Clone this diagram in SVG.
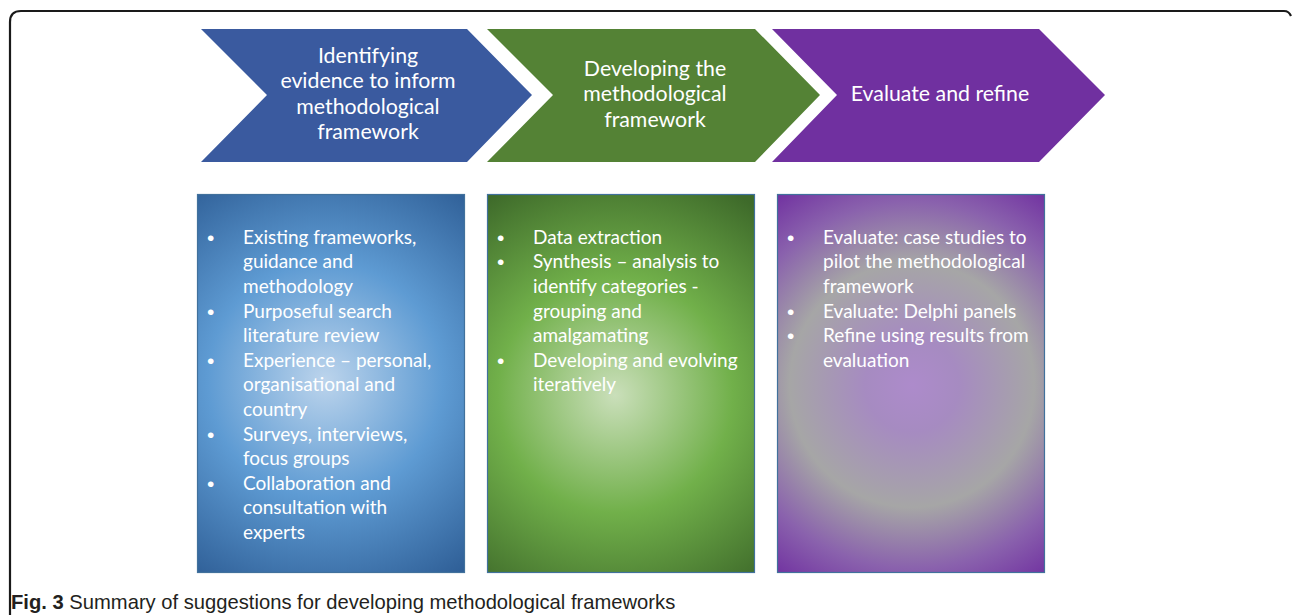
<svg xmlns="http://www.w3.org/2000/svg" width="1292" height="615" viewBox="0 0 1292 615">
  <style>
    .frame { fill: none; stroke: #1a1a1a; stroke-width: 2.2; }
    .chev-text { font-family: Lato, "Open Sans", "Liberation Sans", sans-serif; font-size: 21.3px; fill: #ffffff; text-anchor: middle; }
    .box { stroke: #41719C; stroke-width: 1.2; }
    .item { font-family: Lato, "Open Sans", "Liberation Sans", sans-serif; font-size: 19px; fill: #ffffff; }
    .bullet { font-family: "Liberation Sans", Arial, sans-serif; font-size: 21px; fill: #ffffff; }
    .caption { font-family: "Liberation Sans", Arial, sans-serif; font-size: 20.2px; fill: #231F20; }
  </style>
  <defs>
    <radialGradient id="gBlue" gradientUnits="userSpaceOnUse" cx="325" cy="380" r="235">
      <stop offset="0" stop-color="#BCD4EC"/>
      <stop offset="0.5" stop-color="#5E9BD3"/>
      <stop offset="1" stop-color="#2F5F97"/>
    </radialGradient>
    <radialGradient id="gGreen" gradientUnits="userSpaceOnUse" cx="615" cy="395" r="235">
      <stop offset="0" stop-color="#CADFBA"/>
      <stop offset="0.5" stop-color="#71B04A"/>
      <stop offset="1" stop-color="#3E6A2A"/>
    </radialGradient>
    <radialGradient id="gPurple" gradientUnits="userSpaceOnUse" cx="912" cy="385" r="235">
      <stop offset="0" stop-color="#AD8BCB"/>
      <stop offset="0.2" stop-color="#A68BC1"/>
      <stop offset="0.52" stop-color="#A6A6A6"/>
      <stop offset="0.78" stop-color="#8A62AD"/>
      <stop offset="1" stop-color="#7030A0"/>
    </radialGradient>
  </defs>

  <!-- figure frame -->
  <path class="frame" d="M10,615 V22 Q10,11 21,11 H1284 Q1289,11 1291,16"/>

  <!-- process chevrons -->
  <g id="step-identify">
    <polygon points="201,29 467,29 532,95 467,162 201,162 267,95" fill="#3A5A9F"/>
    <text class="chev-text" x="368" y="63">Identifying</text>
    <text class="chev-text" x="368" y="88">evidence to inform</text>
    <text class="chev-text" x="368" y="114">methodological</text>
    <text class="chev-text" x="368" y="139">framework</text>
  </g>
  <g id="step-develop">
    <polygon points="487,29 755,29 820,95 755,162 487,162 553,95" fill="#548235"/>
    <text class="chev-text" x="655" y="76">Developing the</text>
    <text class="chev-text" x="655" y="101">methodological</text>
    <text class="chev-text" x="655" y="127">framework</text>
  </g>
  <g id="step-evaluate">
    <polygon points="772,29 1039,29 1105,95 1039,162 772,162 837,95" fill="#7030A0"/>
    <text class="chev-text" x="940" y="101">Evaluate and refine</text>
  </g>

  <!-- detail boxes -->
  <g id="box-identify">
    <rect class="box" x="197.5" y="194.5" width="267" height="378" fill="url(#gBlue)"/>
    <g class="bullet">
      <text x="207" y="245">•</text>
      <text x="207" y="319">•</text>
      <text x="207" y="368">•</text>
      <text x="207" y="442">•</text>
      <text x="207" y="491">•</text>
    </g>
    <g class="item">
      <text x="243" y="244">Existing frameworks,</text>
      <text x="243" y="268">guidance and</text>
      <text x="243" y="293">methodology</text>
      <text x="243" y="318">Purposeful search</text>
      <text x="243" y="342">literature review</text>
      <text x="243" y="367">Experience – personal,</text>
      <text x="243" y="391">organisational and</text>
      <text x="243" y="416">country</text>
      <text x="243" y="441">Surveys, interviews,</text>
      <text x="243" y="465">focus groups</text>
      <text x="243" y="490">Collaboration and</text>
      <text x="243" y="514">consultation with</text>
      <text x="243" y="539">experts</text>
    </g>
  </g>
  <g id="box-develop">
    <rect class="box" x="487.5" y="194.5" width="267" height="378" fill="url(#gGreen)"/>
    <g class="bullet">
      <text x="497" y="245">•</text>
      <text x="497" y="269">•</text>
      <text x="497" y="368">•</text>
    </g>
    <g class="item">
      <text x="533" y="244">Data extraction</text>
      <text x="533" y="268">Synthesis – analysis to</text>
      <text x="533" y="293">identify categories -</text>
      <text x="533" y="318">grouping and</text>
      <text x="533" y="342">amalgamating</text>
      <text x="533" y="367">Developing and evolving</text>
      <text x="533" y="391">iteratively</text>
    </g>
  </g>
  <g id="box-evaluate">
    <rect class="box" x="777.5" y="194.5" width="267" height="378" fill="url(#gPurple)"/>
    <g class="bullet">
      <text x="787" y="245">•</text>
      <text x="787" y="319">•</text>
      <text x="787" y="343">•</text>
    </g>
    <g class="item">
      <text x="823" y="244">Evaluate: case studies to</text>
      <text x="823" y="268">pilot the methodological</text>
      <text x="823" y="293">framework</text>
      <text x="823" y="318">Evaluate: Delphi panels</text>
      <text x="823" y="342">Refine using results from</text>
      <text x="823" y="367">evaluation</text>
    </g>
  </g>

  <!-- no connectors between the chevrons: they abut directly -->
  <g id="connectors"/>

  <!-- caption -->
  <text class="caption" x="11" y="609"><tspan font-weight="bold">Fig. 3</tspan> Summary of suggestions for developing methodological frameworks</text>
</svg>
